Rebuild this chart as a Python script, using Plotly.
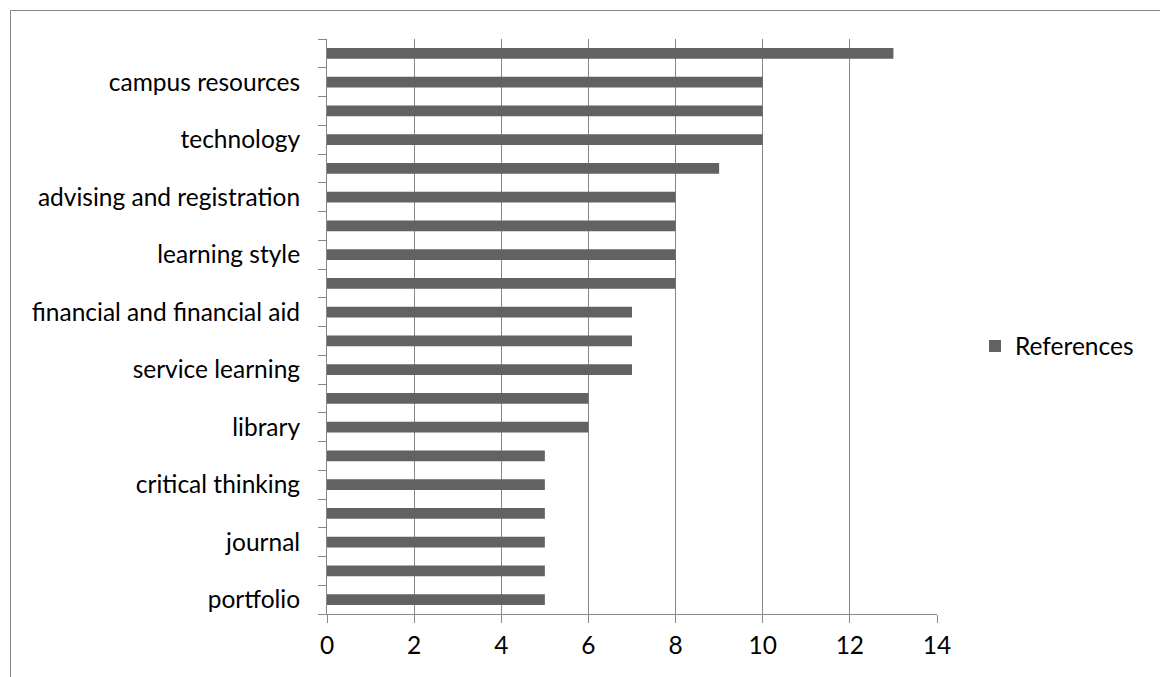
import plotly.graph_objects as go

# Topics listed top to bottom; only every other topic carries a printed label
categories = [
    "", "campus resources", "", "technology", "", "advising and registration",
    "", "learning style", "", "financial and financial aid", "", "service learning",
    "", "library", "", "critical thinking", "", "journal", "", "portfolio",
]
references = [13, 10, 10, 10, 9, 8, 8, 8, 8, 7, 7, 7, 6, 6, 5, 5, 5, 5, 5, 5]
x_ticks = [0, 2, 4, 6, 8, 10, 12, 14]

positions = list(range(len(references)))
label_pos = [i for i, c in enumerate(categories) if c]
label_txt = [categories[i] for i in label_pos]
boundaries = [i - 0.5 for i in range(len(references) + 1)]

W, H = 1160, 677
L, R, T, B = 327, 223, 39, 63
pw, ph = W - L - R, H - T - B

AXIS = "#868686"
BAR = "#626262"
FONT = dict(family="Lato, 'Open Sans', sans-serif", size=24.5, color="#000000")

fig = go.Figure(
    go.Bar(
        x=references,
        y=positions,
        orientation="h",
        name="References",
        marker=dict(color=BAR, line=dict(width=0)),
        showlegend=True,
    )
)

fig.update_layout(
    width=W,
    height=H,
    margin=dict(l=L, r=R, t=T, b=B, pad=0),
    paper_bgcolor="white",
    plot_bgcolor="white",
    font=FONT,
    bargap=0.62,
    showlegend=True,
    legend=dict(
        x=(975 - L) / pw,
        xanchor="left",
        y=(H - B - 346) / ph,
        yanchor="middle",
        font=FONT,
        itemsizing="constant",
        bgcolor="rgba(0,0,0,0)",
    ),
    xaxis=dict(
        range=[0, 14],
        tickvals=x_ticks,
        ticktext=[str(v) for v in x_ticks],
        showgrid=True,
        gridcolor=AXIS,
        gridwidth=1,
        showline=True,
        linecolor=AXIS,
        linewidth=1,
        ticks="outside",
        ticklen=8,
        tickcolor=AXIS,
        tickfont=FONT,
        ticklabelstandoff=2,
        zeroline=False,
    ),
    yaxis=dict(
        range=[len(references) - 0.5, -0.5],
        tickvals=label_pos,
        ticktext=label_txt,
        ticks="outside",
        ticklen=21,
        tickcolor="rgba(0,0,0,0)",
        tickfont=FONT,
        showgrid=False,
        showline=True,
        linecolor=AXIS,
        linewidth=1,
        zeroline=False,
        minor=dict(
            tickvals=boundaries,
            ticks="outside",
            ticklen=8,
            tickcolor=AXIS,
            showgrid=False,
        ),
    ),
    shapes=[
        dict(
            type="rect",
            xref="paper",
            yref="paper",
            x0=(10.5 - L) / pw,
            x1=2,
            y0=-1,
            y1=(H - B - 10.5) / ph,
            line=dict(color=AXIS, width=1),
            layer="below",
        )
    ],
)

fig.write_html("out.html")
